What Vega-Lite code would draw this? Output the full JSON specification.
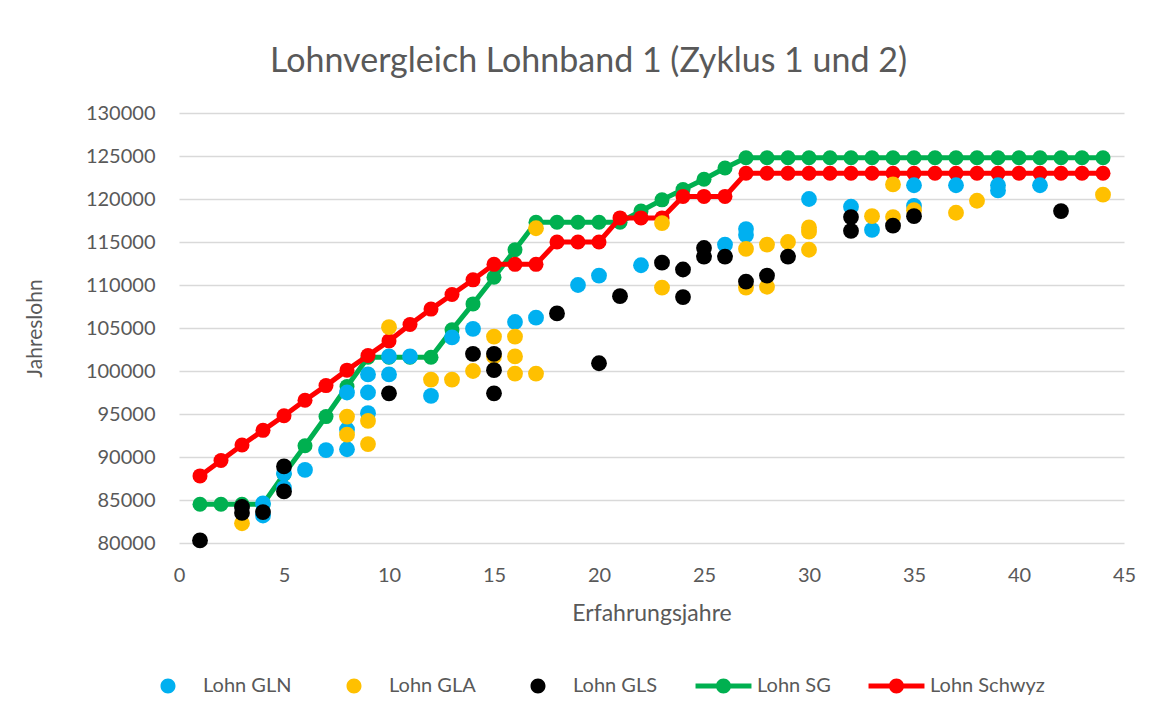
{
  "$schema": "https://vega.github.io/schema/vega-lite/v6.json",
  "width": 945,
  "height": 430,
  "autosize": "none",
  "padding": {"left": 179, "top": 113, "right": 30, "bottom": 170},
  "background": "white",
  "config": {
    "font": "Lato",
    "view": {"stroke": null},
    "axis": {"labelFont": "Lato", "titleFont": "Lato", "labelColor": "#595959", "titleColor": "#595959", "titleFontWeight": "normal"}
  },
  "title": {
    "text": "Lohnvergleich Lohnband 1 (Zyklus 1 und 2)",
    "fontSize": 34,
    "fontWeight": "normal",
    "color": "#595959",
    "font": "Lato",
    "anchor": "middle",
    "frame": "group",
    "dx": -63,
    "offset": 24
  },
  "datasets": {
    "pts": [
      {"s": "Lohn GLN", "x": 4, "y": 84600}, {"s": "Lohn GLN", "x": 4, "y": 83200},
      {"s": "Lohn GLN", "x": 5, "y": 88100}, {"s": "Lohn GLN", "x": 5, "y": 86400},
      {"s": "Lohn GLN", "x": 6, "y": 88500}, {"s": "Lohn GLN", "x": 7, "y": 90800},
      {"s": "Lohn GLN", "x": 8, "y": 97500}, {"s": "Lohn GLN", "x": 8, "y": 93200}, {"s": "Lohn GLN", "x": 8, "y": 90900},
      {"s": "Lohn GLN", "x": 9, "y": 99600}, {"s": "Lohn GLN", "x": 9, "y": 97500}, {"s": "Lohn GLN", "x": 9, "y": 95100},
      {"s": "Lohn GLN", "x": 10, "y": 101700}, {"s": "Lohn GLN", "x": 10, "y": 99600},
      {"s": "Lohn GLN", "x": 11, "y": 101700}, {"s": "Lohn GLN", "x": 12, "y": 97100},
      {"s": "Lohn GLN", "x": 13, "y": 103900}, {"s": "Lohn GLN", "x": 14, "y": 104900},
      {"s": "Lohn GLN", "x": 16, "y": 105700}, {"s": "Lohn GLN", "x": 17, "y": 106200},
      {"s": "Lohn GLN", "x": 19, "y": 110000}, {"s": "Lohn GLN", "x": 20, "y": 111100},
      {"s": "Lohn GLN", "x": 22, "y": 112300}, {"s": "Lohn GLN", "x": 26, "y": 114700},
      {"s": "Lohn GLN", "x": 27, "y": 116500}, {"s": "Lohn GLN", "x": 27, "y": 115800},
      {"s": "Lohn GLN", "x": 30, "y": 120000}, {"s": "Lohn GLN", "x": 32, "y": 119100},
      {"s": "Lohn GLN", "x": 33, "y": 116400}, {"s": "Lohn GLN", "x": 35, "y": 121600}, {"s": "Lohn GLN", "x": 35, "y": 119200},
      {"s": "Lohn GLN", "x": 37, "y": 121600}, {"s": "Lohn GLN", "x": 39, "y": 121600}, {"s": "Lohn GLN", "x": 39, "y": 121000},
      {"s": "Lohn GLN", "x": 41, "y": 121600},
      {"s": "Lohn GLA", "x": 3, "y": 82300},
      {"s": "Lohn GLA", "x": 8, "y": 94700}, {"s": "Lohn GLA", "x": 8, "y": 92600},
      {"s": "Lohn GLA", "x": 9, "y": 94200}, {"s": "Lohn GLA", "x": 9, "y": 91500},
      {"s": "Lohn GLA", "x": 10, "y": 105100}, {"s": "Lohn GLA", "x": 12, "y": 99000},
      {"s": "Lohn GLA", "x": 13, "y": 99000}, {"s": "Lohn GLA", "x": 14, "y": 100000},
      {"s": "Lohn GLA", "x": 15, "y": 104000}, {"s": "Lohn GLA", "x": 15, "y": 101700},
      {"s": "Lohn GLA", "x": 16, "y": 104000}, {"s": "Lohn GLA", "x": 16, "y": 101700}, {"s": "Lohn GLA", "x": 16, "y": 99700},
      {"s": "Lohn GLA", "x": 17, "y": 116600}, {"s": "Lohn GLA", "x": 17, "y": 99700},
      {"s": "Lohn GLA", "x": 23, "y": 117200}, {"s": "Lohn GLA", "x": 23, "y": 109700},
      {"s": "Lohn GLA", "x": 27, "y": 114200}, {"s": "Lohn GLA", "x": 27, "y": 109700},
      {"s": "Lohn GLA", "x": 28, "y": 114700}, {"s": "Lohn GLA", "x": 28, "y": 109800},
      {"s": "Lohn GLA", "x": 29, "y": 115000},
      {"s": "Lohn GLA", "x": 30, "y": 116700}, {"s": "Lohn GLA", "x": 30, "y": 116200}, {"s": "Lohn GLA", "x": 30, "y": 114100},
      {"s": "Lohn GLA", "x": 33, "y": 118000}, {"s": "Lohn GLA", "x": 34, "y": 121700}, {"s": "Lohn GLA", "x": 34, "y": 117900},
      {"s": "Lohn GLA", "x": 35, "y": 118700}, {"s": "Lohn GLA", "x": 37, "y": 118400},
      {"s": "Lohn GLA", "x": 38, "y": 119800}, {"s": "Lohn GLA", "x": 44, "y": 120500},
      {"s": "Lohn GLS", "x": 1, "y": 80300},
      {"s": "Lohn GLS", "x": 3, "y": 84200}, {"s": "Lohn GLS", "x": 3, "y": 83500},
      {"s": "Lohn GLS", "x": 4, "y": 83600},
      {"s": "Lohn GLS", "x": 5, "y": 88900}, {"s": "Lohn GLS", "x": 5, "y": 86000},
      {"s": "Lohn GLS", "x": 10, "y": 97400}, {"s": "Lohn GLS", "x": 14, "y": 102000},
      {"s": "Lohn GLS", "x": 15, "y": 102000}, {"s": "Lohn GLS", "x": 15, "y": 100100}, {"s": "Lohn GLS", "x": 15, "y": 97400},
      {"s": "Lohn GLS", "x": 18, "y": 106700}, {"s": "Lohn GLS", "x": 20, "y": 100900},
      {"s": "Lohn GLS", "x": 21, "y": 108700}, {"s": "Lohn GLS", "x": 23, "y": 112600},
      {"s": "Lohn GLS", "x": 24, "y": 111800}, {"s": "Lohn GLS", "x": 24, "y": 108600},
      {"s": "Lohn GLS", "x": 25, "y": 114300}, {"s": "Lohn GLS", "x": 25, "y": 113300},
      {"s": "Lohn GLS", "x": 26, "y": 113300}, {"s": "Lohn GLS", "x": 27, "y": 110400},
      {"s": "Lohn GLS", "x": 28, "y": 111100}, {"s": "Lohn GLS", "x": 29, "y": 113300},
      {"s": "Lohn GLS", "x": 32, "y": 117900}, {"s": "Lohn GLS", "x": 32, "y": 116300},
      {"s": "Lohn GLS", "x": 34, "y": 116900}, {"s": "Lohn GLS", "x": 35, "y": 118000},
      {"s": "Lohn GLS", "x": 42, "y": 118600}
    ],
    "lines": [
      {"s": "Lohn SG", "x": 1, "y": 84500}, {"s": "Lohn SG", "x": 2, "y": 84500}, {"s": "Lohn SG", "x": 3, "y": 84500}, {"s": "Lohn SG", "x": 4, "y": 84500},
      {"s": "Lohn SG", "x": 5, "y": 88000}, {"s": "Lohn SG", "x": 6, "y": 91300}, {"s": "Lohn SG", "x": 7, "y": 94700}, {"s": "Lohn SG", "x": 8, "y": 98200},
      {"s": "Lohn SG", "x": 9, "y": 101600}, {"s": "Lohn SG", "x": 10, "y": 101600}, {"s": "Lohn SG", "x": 11, "y": 101600}, {"s": "Lohn SG", "x": 12, "y": 101600},
      {"s": "Lohn SG", "x": 13, "y": 104800}, {"s": "Lohn SG", "x": 14, "y": 107800}, {"s": "Lohn SG", "x": 15, "y": 110900}, {"s": "Lohn SG", "x": 16, "y": 114100},
      {"s": "Lohn SG", "x": 17, "y": 117300}, {"s": "Lohn SG", "x": 18, "y": 117300}, {"s": "Lohn SG", "x": 19, "y": 117300}, {"s": "Lohn SG", "x": 20, "y": 117300},
      {"s": "Lohn SG", "x": 21, "y": 117300}, {"s": "Lohn SG", "x": 22, "y": 118600}, {"s": "Lohn SG", "x": 23, "y": 119900}, {"s": "Lohn SG", "x": 24, "y": 121100},
      {"s": "Lohn SG", "x": 25, "y": 122300}, {"s": "Lohn SG", "x": 26, "y": 123600}, {"s": "Lohn SG", "x": 27, "y": 124800}, {"s": "Lohn SG", "x": 28, "y": 124800},
      {"s": "Lohn SG", "x": 29, "y": 124800}, {"s": "Lohn SG", "x": 30, "y": 124800}, {"s": "Lohn SG", "x": 31, "y": 124800}, {"s": "Lohn SG", "x": 32, "y": 124800},
      {"s": "Lohn SG", "x": 33, "y": 124800}, {"s": "Lohn SG", "x": 34, "y": 124800}, {"s": "Lohn SG", "x": 35, "y": 124800}, {"s": "Lohn SG", "x": 36, "y": 124800},
      {"s": "Lohn SG", "x": 37, "y": 124800}, {"s": "Lohn SG", "x": 38, "y": 124800}, {"s": "Lohn SG", "x": 39, "y": 124800}, {"s": "Lohn SG", "x": 40, "y": 124800},
      {"s": "Lohn SG", "x": 41, "y": 124800}, {"s": "Lohn SG", "x": 42, "y": 124800}, {"s": "Lohn SG", "x": 43, "y": 124800}, {"s": "Lohn SG", "x": 44, "y": 124800},
      {"s": "Lohn Schwyz", "x": 1, "y": 87800}, {"s": "Lohn Schwyz", "x": 2, "y": 89600}, {"s": "Lohn Schwyz", "x": 3, "y": 91400}, {"s": "Lohn Schwyz", "x": 4, "y": 93100},
      {"s": "Lohn Schwyz", "x": 5, "y": 94800}, {"s": "Lohn Schwyz", "x": 6, "y": 96600}, {"s": "Lohn Schwyz", "x": 7, "y": 98300}, {"s": "Lohn Schwyz", "x": 8, "y": 100100},
      {"s": "Lohn Schwyz", "x": 9, "y": 101800}, {"s": "Lohn Schwyz", "x": 10, "y": 103500}, {"s": "Lohn Schwyz", "x": 11, "y": 105400}, {"s": "Lohn Schwyz", "x": 12, "y": 107200},
      {"s": "Lohn Schwyz", "x": 13, "y": 108900}, {"s": "Lohn Schwyz", "x": 14, "y": 110600}, {"s": "Lohn Schwyz", "x": 15, "y": 112400}, {"s": "Lohn Schwyz", "x": 16, "y": 112400},
      {"s": "Lohn Schwyz", "x": 17, "y": 112400}, {"s": "Lohn Schwyz", "x": 18, "y": 115000}, {"s": "Lohn Schwyz", "x": 19, "y": 115000}, {"s": "Lohn Schwyz", "x": 20, "y": 115000},
      {"s": "Lohn Schwyz", "x": 21, "y": 117800}, {"s": "Lohn Schwyz", "x": 22, "y": 117800}, {"s": "Lohn Schwyz", "x": 23, "y": 117800}, {"s": "Lohn Schwyz", "x": 24, "y": 120300},
      {"s": "Lohn Schwyz", "x": 25, "y": 120300}, {"s": "Lohn Schwyz", "x": 26, "y": 120300}, {"s": "Lohn Schwyz", "x": 27, "y": 123000}, {"s": "Lohn Schwyz", "x": 28, "y": 123000},
      {"s": "Lohn Schwyz", "x": 29, "y": 123000}, {"s": "Lohn Schwyz", "x": 30, "y": 123000}, {"s": "Lohn Schwyz", "x": 31, "y": 123000}, {"s": "Lohn Schwyz", "x": 32, "y": 123000},
      {"s": "Lohn Schwyz", "x": 33, "y": 123000}, {"s": "Lohn Schwyz", "x": 34, "y": 123000}, {"s": "Lohn Schwyz", "x": 35, "y": 123000}, {"s": "Lohn Schwyz", "x": 36, "y": 123000},
      {"s": "Lohn Schwyz", "x": 37, "y": 123000}, {"s": "Lohn Schwyz", "x": 38, "y": 123000}, {"s": "Lohn Schwyz", "x": 39, "y": 123000}, {"s": "Lohn Schwyz", "x": 40, "y": 123000},
      {"s": "Lohn Schwyz", "x": 41, "y": 123000}, {"s": "Lohn Schwyz", "x": 42, "y": 123000}, {"s": "Lohn Schwyz", "x": 43, "y": 123000}, {"s": "Lohn Schwyz", "x": 44, "y": 123000}
    ]
  },
  "encoding": {
    "x": {
      "field": "x", "type": "quantitative",
      "scale": {"domain": [0, 45], "nice": false, "zero": false},
      "axis": {
        "title": "Erfahrungsjahre", "values": [0, 5, 10, 15, 20, 25, 30, 35, 40, 45],
        "grid": false, "domain": false, "ticks": false, "tickSize": 0,
        "labelFontSize": 20, "labelPadding": 22, "titleFontSize": 23, "titlePadding": 17,
        "labelFlush": false
      }
    },
    "y": {
      "field": "y", "type": "quantitative",
      "scale": {"domain": [80000, 130000], "nice": false, "zero": false},
      "axis": {
        "title": "Jahreslohn", "values": [80000, 85000, 90000, 95000, 100000, 105000, 110000, 115000, 120000, 125000, 130000],
        "format": "d", "grid": true, "gridColor": "#D9D9D9", "gridWidth": 1.3,
        "domain": false, "ticks": false, "tickSize": 0,
        "labelFontSize": 20, "labelPadding": 24, "titleFontSize": 21, "titlePadding": 40
      }
    },
    "color": {
      "field": "s", "type": "nominal",
      "scale": {
        "domain": ["Lohn GLN", "Lohn GLA", "Lohn GLS", "Lohn SG", "Lohn Schwyz"],
        "range": ["#00B0F0", "#FFC000", "#000000", "#00B050", "#FF0000"]
      },
      "legend": {
        "title": null, "orient": "none", "direction": "horizontal",
        "legendX": -21, "legendY": 563,
        "symbolSize": 225, "symbolType": "circle", "symbolStrokeWidth": 0,
        "labelFontSize": 20, "labelColor": "#595959", "labelFont": "Lato",
        "labelOffset": 25, "columnPadding": 37,
        "encode": {
          "symbols": {
            "update": {
              "shape": {"signal": "(datum.value === 'Lohn SG' || datum.value === 'Lohn Schwyz') ? 'M-3.53,-0.33L3.93,-0.33L3.93,0.33L-3.53,0.33Z M1.2,0A1,1 0 1,1 -0.8,0A1,1 0 1,1 1.2,0Z' : 'M-3.33,0L-3.33,0.01Z M1,0A1,1 0 1,1 -1,0A1,1 0 1,1 1,0Z'"}
            }
          }
        }
      }
    }
  },
  "layer": [
    {
      "data": {"name": "lines"},
      "transform": [{"filter": "datum.s === 'Lohn SG'"}],
      "mark": {"type": "line", "strokeWidth": 5}
    },
    {
      "data": {"name": "lines"},
      "transform": [{"filter": "datum.s === 'Lohn SG'"}],
      "mark": {"type": "point", "filled": true, "size": 225, "opacity": 1}
    },
    {
      "data": {"name": "lines"},
      "transform": [{"filter": "datum.s === 'Lohn Schwyz'"}],
      "mark": {"type": "line", "strokeWidth": 5}
    },
    {
      "data": {"name": "lines"},
      "transform": [{"filter": "datum.s === 'Lohn Schwyz'"}],
      "mark": {"type": "point", "filled": true, "size": 225, "opacity": 1}
    },
    {
      "data": {"name": "pts"},
      "mark": {"type": "point", "filled": true, "size": 250, "opacity": 1}
    }
  ]
}
